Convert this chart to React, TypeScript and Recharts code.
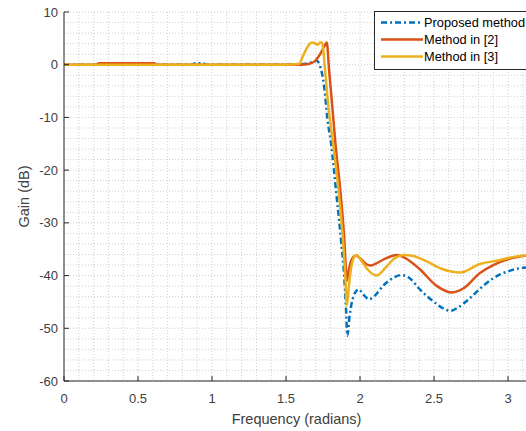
import React from 'react';
import { LineChart, Line, XAxis, YAxis, CartesianGrid, Legend, Label } from 'recharts';

// ---- data ----
const proposedFreq = [0, 0.5, 0.87, 0.885, 0.94, 0.955, 1.2, 1.5, 1.6, 1.65, 1.69, 1.707, 1.726, 1.758, 1.78, 1.805, 1.838, 1.872, 1.892, 1.905, 1.914, 1.93, 1.955, 1.99, 2.02, 2.06, 2.1, 2.16, 2.22, 2.28, 2.34, 2.4, 2.5, 2.56, 2.61, 2.66, 2.73, 2.81, 2.9, 3.01, 3.08, 3.1416];
const proposedGain = [0, 0, 0, 0.3, 0.3, 0, 0, 0, 0.1, 0.3, 0.6, 0.8, 0, -4.2, -10.4, -15, -23.9, -33.4, -39.7, -46, -51.4, -47.5, -44, -42.6, -43.5, -44.5, -43.8, -41.8, -40.5, -39.9, -40.6, -42.5, -45, -46.2, -46.7, -46.1, -44.6, -42.5, -40.5, -39.1, -38.6, -38.4];

const method2Freq = [0, 0.22, 0.235, 0.61, 0.625, 1.0, 1.5, 1.6, 1.66, 1.7, 1.716, 1.74, 1.76, 1.775, 1.791, 1.811, 1.834, 1.867, 1.894, 1.903, 1.91, 1.92, 1.94, 1.973, 2.0, 2.04, 2.07, 2.11, 2.17, 2.25, 2.3, 2.4, 2.52, 2.62, 2.7, 2.81, 2.9, 3.01, 3.08, 3.1416];
const method2Gain = [0, 0, 0.3, 0.3, 0, 0, 0, 0, 0.2, 0.8, 1.4, 2.5, 3.6, 4.2, -1, -7.4, -15, -23.9, -33.4, -38, -41, -39.5, -37.2, -36.2, -36.7, -37.8, -38.1, -37.7, -36.8, -36.1, -36.6, -38.7, -42, -43.2, -42.4, -39.5, -38, -36.8, -36.4, -36.1];

const method3Freq = [0, 0.5, 1.0, 1.5, 1.59, 1.615, 1.65, 1.675, 1.7, 1.715, 1.73, 1.743, 1.764, 1.784, 1.818, 1.855, 1.885, 1.902, 1.91, 1.925, 1.94, 1.955, 1.975, 2.0, 2.05, 2.11, 2.17, 2.23, 2.3, 2.36, 2.45, 2.55, 2.68, 2.81, 2.92, 3.03, 3.1416];
const method3Gain = [0, 0, 0, 0, 0.2, 1.7, 3.6, 4.2, 4.0, 3.8, 4.2, 4.2, -1, -7.4, -15, -23.9, -33.4, -41, -45.7, -42, -38.5, -36.8, -36.1, -36.8, -38.8, -40, -38.6, -36.8, -36.1, -36.3, -37.3, -38.7, -39.4, -37.8, -37.2, -36.5, -36.1];

const seriesNames = ['Proposed method', 'Method in [2]', 'Method in [3]'];
const seriesColors = ['#0072BD', '#D95319', '#EDB120'];
const xTicks = [0, 0.5, 1, 1.5, 2, 2.5, 3];
const yTicks = [-60, -50, -40, -30, -20, -10, 0, 10];
const xLabel = 'Frequency (radians)';
const yLabel = 'Gain (dB)';

const toPoints = (f: number[], g: number[]) => f.map((x, i) => ({ freq: x, gain: g[i] }));
const proposedData = toPoints(proposedFreq, proposedGain);
const method2Data = toPoints(method2Freq, method2Gain);
const method3Data = toPoints(method3Freq, method3Gain);

const minorX: number[] = [];
for (let i = 0; i <= 31; i++) minorX.push(Math.round(i * 10) / 100);
const minorY: number[] = [];
for (let v = -60; v <= 10; v += 2) minorY.push(v);

const FONT = '"Liberation Sans", Arial, Helvetica, sans-serif';
const AX = '#262626';
const TXT = '#404040';
const dashes = ['6 3 2 3', undefined, undefined];

const BottomTick = (props: any) => {
  const { x, y, payload } = props;
  return (
    <g>
      <line x1={x} y1={y} x2={x} y2={y - 5} stroke={AX} strokeWidth={1} />
      <text x={x} y={y + 13} dy="0.71em" textAnchor="middle" fill={TXT} fontSize={13} fontFamily={FONT}>
        {payload.value}
      </text>
    </g>
  );
};

const TopTick = (props: any) => {
  const { x, y } = props;
  return <line x1={x} y1={y} x2={x} y2={y + 5} stroke={AX} strokeWidth={1} />;
};

const LeftTick = (props: any) => {
  const { x, y, payload } = props;
  return (
    <g>
      <line x1={x} y1={y} x2={x + 5} y2={y} stroke={AX} strokeWidth={1} />
      <text x={x - 6} y={y} dy="0.355em" textAnchor="end" fill={TXT} fontSize={13} fontFamily={FONT}>
        {payload.value}
      </text>
    </g>
  );
};

const XLabelContent = (props: any) => {
  const vb = props.viewBox || {};
  return (
    <text x={vb.x + vb.width / 2} y={vb.y + 43} textAnchor="middle" fill={TXT} fontSize={14.5} fontFamily={FONT}>
      {xLabel}
    </text>
  );
};

const YLabelContent = (props: any) => {
  const vb = props.viewBox || {};
  const cx = vb.x + 24;
  const cy = vb.y + vb.height / 2;
  return (
    <text x={cx} y={cy} dy="0.35em" textAnchor="middle" fill={TXT} fontSize={14.5} fontFamily={FONT} transform={`rotate(-90, ${cx}, ${cy})`}>
      {yLabel}
    </text>
  );
};

const LegendBox = () => (
  <div
    style={{
      border: `1px solid ${AX}`,
      background: '#fff',
      width: 170,
      height: 55,
      boxSizing: 'content-box',
      paddingTop: 2,
      fontFamily: FONT,
      fontSize: 12.8,
      color: '#000',
    }}
  >
    {seriesNames.map((name, i) => (
      <div key={name} style={{ display: 'flex', alignItems: 'center', height: 17, whiteSpace: 'nowrap' }}>
        <svg width={44} height={17} style={{ marginLeft: 5, marginRight: 0, flex: 'none' }}>
          <line x1={1} y1={8.5} x2={43} y2={8.5} stroke={seriesColors[i]} strokeWidth={2.5} strokeDasharray={dashes[i]} />
        </svg>
        <span>{name}</span>
      </div>
    ))}
  </div>
);

export default function App() {
  return (
    <div style={{ position: 'fixed', left: 0, top: 0, width: 526, height: 431, overflow: 'hidden', background: '#fff' }}>
      <LineChart width={536} height={431} margin={{ top: 12, right: 7, bottom: 0, left: 0 }}>
        <CartesianGrid
          stroke="#cfcfcf"
          strokeDasharray="1 2"
          verticalValues={minorX}
          horizontalValues={minorY}
        />
        <XAxis
          dataKey="freq"
          type="number"
          domain={[0, Math.PI]}
          ticks={xTicks}
          interval={0}
          allowDataOverflow
          height={50}
          tickSize={0}
          tickMargin={0}
          tickLine={false}
          axisLine={{ stroke: AX, strokeWidth: 1 }}
          tick={<BottomTick />}
        >
          <Label content={<XLabelContent />} />
        </XAxis>
        <XAxis
          xAxisId="top"
          orientation="top"
          dataKey="freq"
          type="number"
          domain={[0, Math.PI]}
          ticks={xTicks}
          interval={0}
          allowDataOverflow
          height={0}
          tickSize={0}
          tickMargin={0}
          tickLine={false}
          axisLine={{ stroke: AX, strokeWidth: 1 }}
          tick={<TopTick />}
        />
        <YAxis
          type="number"
          domain={[-60, 10]}
          ticks={yTicks}
          interval={0}
          allowDataOverflow
          width={64}
          tickSize={0}
          tickMargin={0}
          tickLine={false}
          axisLine={{ stroke: AX, strokeWidth: 1 }}
          tick={<LeftTick />}
        >
          <Label content={<YLabelContent />} />
        </YAxis>
        <Line data={proposedData} dataKey="gain" name={seriesNames[0]} type="monotone" stroke={seriesColors[0]} strokeWidth={2.5} strokeDasharray={dashes[0]} dot={false} isAnimationActive={false} />
        <Line data={method2Data} dataKey="gain" name={seriesNames[1]} type="monotone" stroke={seriesColors[1]} strokeWidth={2.5} dot={false} isAnimationActive={false} />
        <Line data={method3Data} dataKey="gain" name={seriesNames[2]} type="monotone" stroke={seriesColors[2]} strokeWidth={2.5} dot={false} isAnimationActive={false} />
        <Legend
          layout="horizontal"
          verticalAlign="middle"
          align="center"
          content={<LegendBox />}
          wrapperStyle={{ position: 'absolute', left: 374, top: 11, width: 172, height: 58, margin: 0 }}
        />
      </LineChart>
    </div>
  );
}
